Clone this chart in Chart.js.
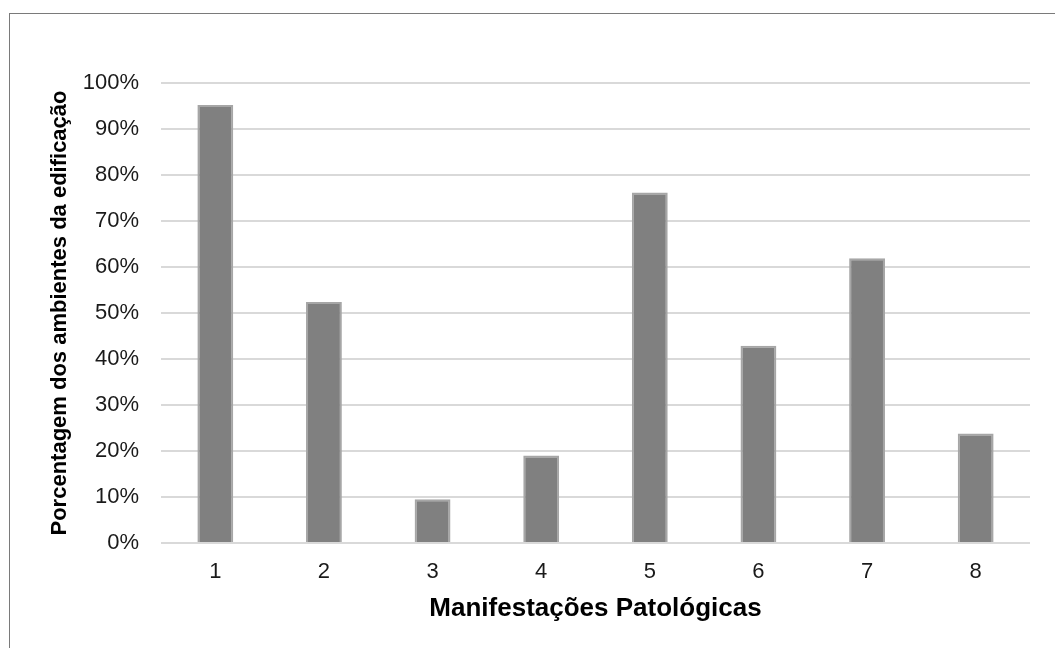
<!DOCTYPE html>
<html>
<head>
<meta charset="utf-8">
<script src="https://cdn.jsdelivr.net/npm/chart.js@4/dist/chart.umd.min.js"></script>
<style>
  html, body { margin: 0; padding: 0; background: #fff; }
  #frame {
    position: absolute; left: 9px; top: 13px; width: 1046px; height: 635px;
    border-top: 1px solid #7a7a7a; border-left: 1px solid #7a7a7a;
  }
  #chart-wrap { position: absolute; left: 0; top: 0; width: 1046px; height: 635px; }
</style>
</head>
<body>
<div id="frame"><div id="chart-wrap"><canvas id="chart"></canvas></div></div>
<script>
// data
const categories = ['1', '2', '3', '4', '5', '6', '7', '8'];
const percentages = [95.2, 52.4, 9.5, 19.0, 76.2, 42.9, 61.9, 23.8];
const yTicks = [0, 10, 20, 30, 40, 50, 60, 70, 80, 90, 100];

const xTitle = 'Manifestações Patológicas';
const yTitle = 'Porcentagem dos ambientes da edificação';

const font = "'Liberation Sans', Arial, sans-serif";

new Chart(document.getElementById('chart').getContext('2d'), {
    type: 'bar',
    data: {
        labels: categories,
        datasets: [{
            data: percentages,
            backgroundColor: '#808080',
            borderColor: '#a6a6a6',
            borderWidth: 2,
            categoryPercentage: 1,
            barPercentage: 0.33
        }]
    },
    options: {
        responsive: true,
        maintainAspectRatio: false,
        animation: false,
        layout: { padding: { top: 69, right: 26, left: 0, bottom: 0 } },
        plugins: { legend: { display: false }, tooltip: { enabled: false } },
        scales: {
            x: {
                grid: { display: false },
                border: { display: false },
                ticks: { color: '#1a1a1a', font: { family: font, size: 22 }, padding: 8 },
                title: {
                    display: true, text: xTitle, color: '#000',
                    font: { family: font, size: 26, weight: 'bold' }, padding: { top: 25, bottom: 25 }
                },
                afterFit: (scale) => { scale.height = 106; }
            },
            y: {
                min: 0, max: 100,
                afterBuildTicks: (scale) => { scale.ticks = yTicks.map(v => ({ value: v })); },
                grid: { color: '#d9d9d9', lineWidth: 2, drawTicks: false },
                border: { display: false },
                ticks: {
                    color: '#1a1a1a', font: { family: font, size: 22 }, padding: 22,
                    callback: (v) => v + '%'
                },
                title: {
                    display: true, text: yTitle, color: '#000',
                    font: { family: font, size: 22, weight: 'bold' }, padding: { top: 37, bottom: 37 }
                },
                afterFit: (scale) => { scale.width = 151; }
            }
        }
    }
});
</script>
</body>
</html>
